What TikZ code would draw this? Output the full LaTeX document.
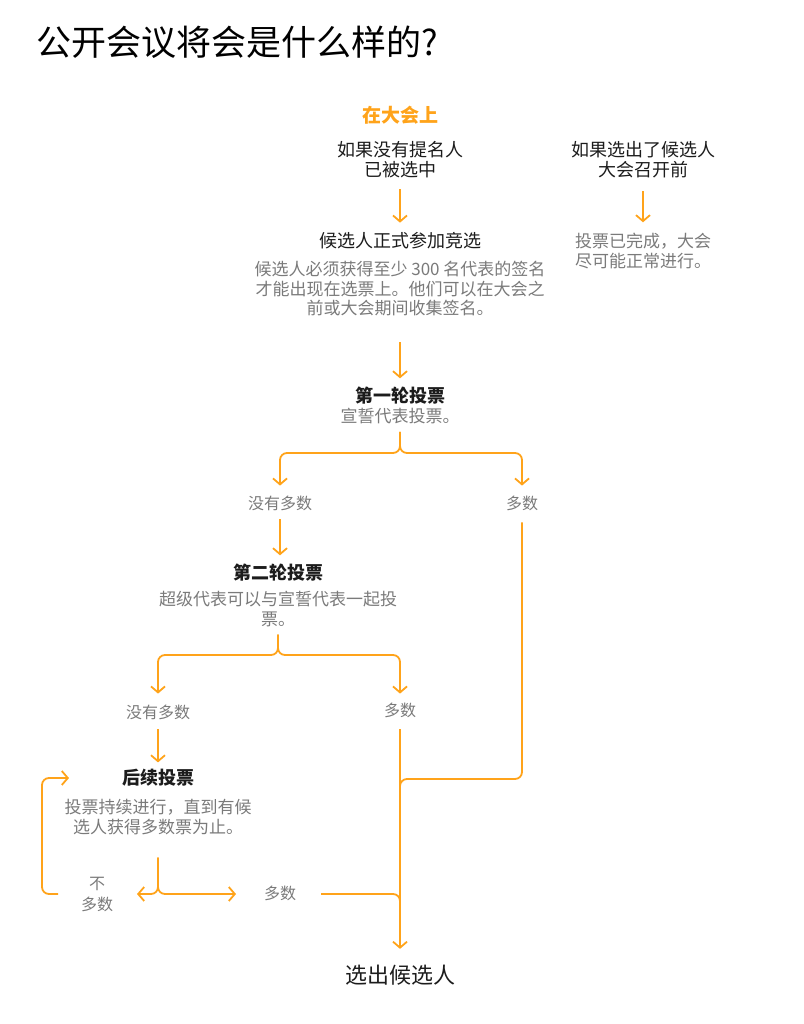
\documentclass[tikz,border=0pt]{standalone}
\usepackage{fontspec}
\setmainfont{Noto Sans CJK SC}
\usetikzlibrary{arrows.meta}
\definecolor{org}{RGB}{255,163,26}
\definecolor{txtgray}{RGB}{122,122,122}
\definecolor{txtblack}{RGB}{28,28,28}
\tikzset{
  base/.style={inner sep=0pt, outer sep=0pt, align=center},
  blk/.style={base, text=txtblack, font=\fontsize{18}{20}\selectfont},
  hd/.style={base, text=txtblack, font=\fontsize{18}{20}\selectfont\bfseries},
  gry/.style={base, text=txtgray, font=\fontsize{17}{19.5}\selectfont},
  lbl/.style={base, text=txtgray, font=\fontsize{16}{21}\selectfont},
  conn/.style={draw=org, line width=1.8pt, rounded corners=7pt},
  arr/.style={conn, -{Straight Barb[length=6pt,width=14pt,line width=1.8pt]}},
}
\begin{document}
\begin{tikzpicture}[x=1pt,y=-1pt]
\useasboundingbox (0,0) rectangle (803,1024);
% title
\node[base, anchor=west, text=black, font=\fontsize{35}{40}\selectfont] (title) at (36,42) {公开会议将会是什么样的?};
% left column
\node[base, text=org, font=\fontsize{19}{22}\selectfont\bfseries] (atconv) at (400,115) {在大会上};
\node[blk] (cond1) at (400,160) {如果没有提名人\\已被选中};
\node[blk] (stage1) at (400,241) {候选人正式参加竞选};
\node[gry] (desc1) at (400,289) {候选人必须获得至少 300 名代表的签名\\才能出现在选票上。他们可以在大会之\\前或大会期间收集签名。};
\node[hd] (r1) at (400,396) {第一轮投票};
\node[gry] (r1d) at (400,416) {宣誓代表投票。};
\node[lbl] (nomaj1) at (280,503) {没有多数};
\node[lbl] (maj1) at (522,503) {多数};
\node[hd] (r2) at (278,573) {第二轮投票};
\node[gry] (r2d) at (278,609) {超级代表可以与宣誓代表一起投\\票。};
\node[lbl] (nomaj2) at (158,712) {没有多数};
\node[lbl] (maj2) at (400,710) {多数};
\node[hd] (r3) at (158,778) {后续投票};
\node[gry] (r3d) at (158,817) {投票持续进行，直到有候\\选人获得多数票为止。};
\node[lbl] (nomaj3) at (97,894.5) {不\\多数};
\node[lbl] (maj3) at (280,893) {多数};
\node[base, text=txtblack, font=\fontsize{22}{26}\selectfont] (final) at (400,975) {选出候选人};
% right column
\node[blk] (cond2) at (643,160) {如果选出了候选人\\大会召开前};
\node[gry] (done2) at (643,251) {投票已完成，大会\\尽可能正常进行。};
% helper coordinates
\coordinate (b1) at (400,453);
\coordinate (b2) at (278,655);
\coordinate (b3) at (158,894);
\coordinate (m1) at (400,779);
\coordinate (m1b) at (400,796);
\coordinate (m2) at (400,894);
\coordinate (m2b) at (400,911);
\coordinate (loopx) at (42,0);
% connectors
\draw[arr, shorten <=11pt, shorten >=10pt] (cond1.south) -- (stage1.north);
\draw[arr, shorten <=26pt, shorten >=9pt] (desc1.south) -- (r1.north);
\draw[arr, shorten <=8pt, shorten >=10pt] (r1d.south) -- (b1) -- (nomaj1.north |- b1) -- (nomaj1.north);
\draw[arr, shorten <=8pt, shorten >=10pt] (r1d.south) -- (b1) -- (maj1.north |- b1) -- (maj1.north);
\draw[arr, shorten <=9pt, shorten >=9pt] (nomaj1.south) -- (nomaj1.south |- r2.north);
\draw[arr, shorten <=8pt, shorten >=11pt] (r2d.south) -- (b2) -- (nomaj2.north |- b2) -- (nomaj2.north);
\draw[arr, shorten <=8pt, shorten >=9pt] (r2d.south) -- (b2) -- (maj2.north |- b2) -- (maj2.north);
\draw[arr, shorten <=10pt, shorten >=7pt] (nomaj2.south) -- (r3.north);
\draw[arr, shorten <=23pt, shorten >=24pt] (r3d.south) -- (b3) -- (nomaj3.east |- b3);
\draw[arr, shorten <=23pt, shorten >=28pt] (r3d.south) -- (b3) -- (maj3.west |- b3);
\draw[arr, shorten <=23pt, shorten >=53pt] (nomaj3.west |- b3) -- (loopx |- b3) -- (loopx |- r3.west) -- (r3.west);
\draw[conn, shorten <=12pt] (maj1.south) -- (maj1.south |- m1) -- (m1) -- (m1b);
\draw[conn, shorten <=25pt] (maj3.east |- m2) -- (m2) -- (m2b);
\draw[arr, shorten <=12pt, shorten >=16pt] (maj2.south) -- (final.north);
\draw[arr, shorten <=13pt, shorten >=11pt] (cond2.south) -- (done2.north);
\end{tikzpicture}
\end{document}
